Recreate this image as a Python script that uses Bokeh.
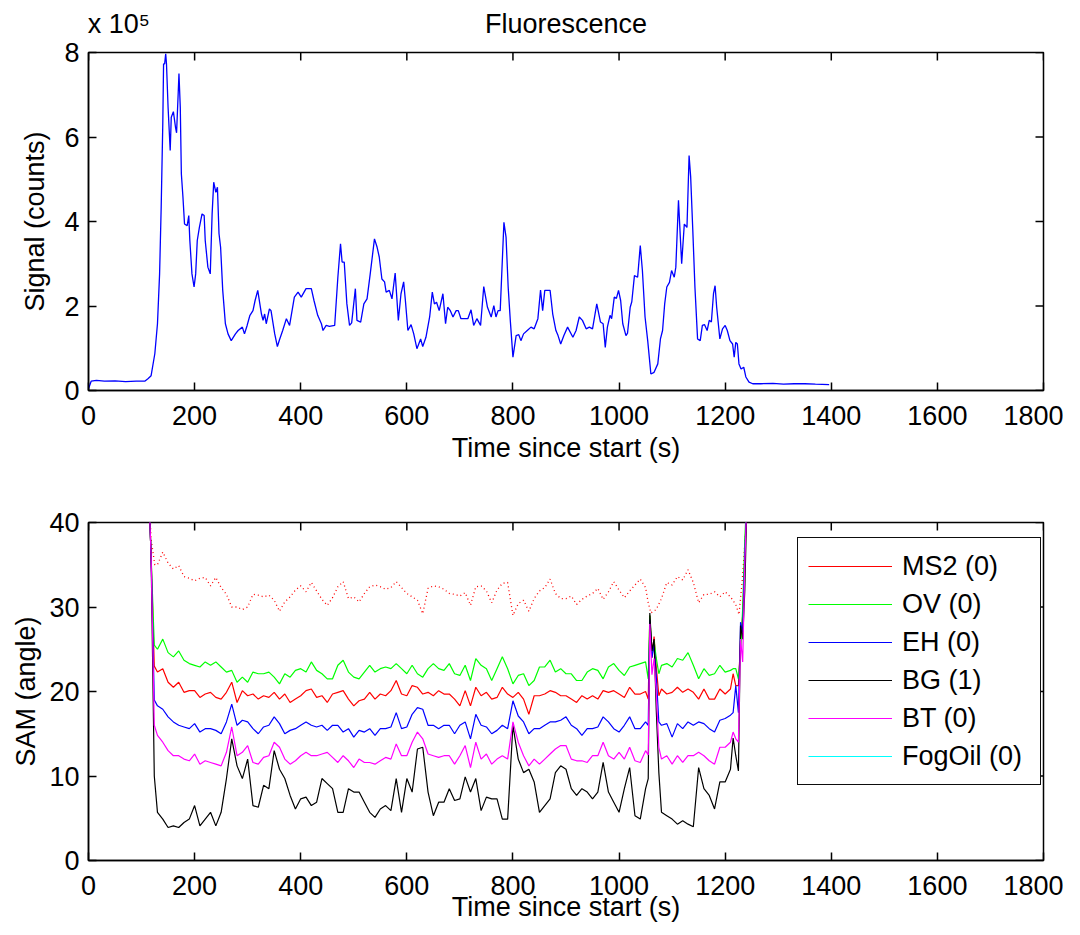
import math
from bokeh.plotting import figure
from bokeh.models import Range1d, LinearAxis, FixedTicker, Legend, LegendItem
from bokeh.layouts import column
from bokeh.embed import file_html
from bokeh.resources import INLINE

# ---------------- data ----------------
x_ticks = [0, 200, 400, 600, 800, 1000, 1200, 1400, 1600, 1800]
signal_y_ticks = [0, 2, 4, 6, 8]
sam_y_ticks = [0, 10, 20, 30, 40]

# Fluorescence signal (units of 1e5 counts)
fluor_t = [0, 5, 15, 30, 50, 70, 90, 106, 112, 118, 125, 130, 134, 137, 140, 141.5, 143.5, 145.5, 147, 150,
           154, 156, 160, 164, 166, 169, 170.5, 173, 175, 178, 181, 186, 189, 191, 195, 199, 202, 205, 209, 214,
           218, 220, 225, 229.5, 233, 236, 240, 243, 246, 249, 253, 258, 263, 269, 277, 282, 290, 294, 299, 304,
           310, 314, 319, 326, 329, 332, 335, 341, 344, 351, 356, 360, 366, 373, 379, 388, 395, 401, 410, 420,
           425, 432, 439, 442, 448, 454, 464, 470, 475, 478, 482, 487, 492, 496, 503, 506, 513, 519, 525, 531,
           539, 544, 548, 553, 558, 561, 567, 572, 578, 584, 589, 594, 597, 602, 608, 613, 619, 626, 630, 636,
           643, 648, 652, 656, 661, 668, 673, 677, 682, 687, 693, 697, 702, 709, 715, 721, 726, 732, 739, 745,
           752, 759, 764, 768, 772, 776, 783, 787, 791, 795, 800, 806, 811, 815, 820, 827, 834, 840, 847, 852,
           856, 860, 870, 875, 881, 885, 890, 896, 903, 913, 919, 925, 931, 938, 944, 950, 958, 965, 970, 974,
           978, 983, 986, 991, 995, 999, 1003, 1007, 1013, 1016, 1021, 1024, 1029, 1035, 1040, 1044, 1049, 1054, 1060, 1066,
           1073, 1078, 1082, 1086, 1090, 1095, 1099, 1104, 1107, 1112, 1118, 1123, 1128, 1132, 1135, 1139, 1143, 1148, 1153, 1157,
           1161, 1166, 1170, 1174, 1178, 1181, 1184, 1190, 1195, 1200, 1204, 1209, 1214, 1217, 1220, 1223, 1226, 1230, 1235, 1239,
           1245, 1252, 1267, 1290, 1310, 1330, 1350, 1370, 1396]
fluor_signal = [0.04, 0.22, 0.24, 0.22, 0.23, 0.21, 0.22, 0.22, 0.28, 0.35, 0.87, 1.58, 2.76, 4.34, 6.3, 7.73, 7.73, 7.97, 7.73, 6.7,
                5.68, 6.47, 6.6, 6.23, 6.1, 7.02, 7.5, 6.7, 5.13, 4.58, 3.94, 3.9, 4.14, 3.55, 2.76, 2.45, 2.76, 3.55, 3.86, 4.18,
                4.14, 3.55, 2.92, 2.76, 4.18, 4.93, 4.69, 4.81, 3.71, 3.39, 2.37, 1.58, 1.34, 1.18, 1.34, 1.42, 1.5, 1.34, 1.54, 1.77,
                1.89, 2.13, 2.37, 1.81, 1.66, 1.81, 1.58, 1.93, 1.89, 1.34, 1.04, 1.2, 1.42, 1.7, 1.54, 2.21, 2.33, 2.21, 2.41, 2.41,
                2.13, 1.78, 1.58, 1.42, 1.54, 1.52, 1.54, 2.68, 3.47, 3.04, 3.04, 2.05, 1.54, 1.6, 2.41, 1.66, 1.62, 2.05, 2.17, 2.76,
                3.59, 3.39, 3.16, 2.64, 2.57, 2.33, 2.37, 2.17, 2.78, 1.66, 2.29, 2.57, 2.17, 1.42, 1.56, 1.34, 0.99, 1.22, 1.04, 1.26,
                1.74, 2.33, 2.05, 2.09, 1.89, 2.29, 1.58, 1.97, 1.89, 1.74, 1.89, 1.89, 1.7, 1.7, 1.7, 1.91, 1.54, 1.7, 1.54, 2.46,
                1.97, 1.74, 2.01, 1.74, 1.89, 1.89, 3.98, 3.63, 2.45, 1.66, 0.79, 1.3, 1.32, 1.18, 1.34, 1.42, 1.5, 1.46, 1.7, 2.38,
                1.89, 2.37, 2.37, 1.81, 1.42, 1.3, 1.1, 1.3, 1.5, 1.26, 1.42, 1.74, 1.66, 1.46, 1.5, 1.46, 2.05, 1.62, 1.58, 1.02,
                1.5, 1.78, 1.7, 2.21, 2.18, 2.37, 2.13, 1.58, 1.3, 1.36, 1.97, 2.1, 2.72, 2.68, 3.43, 2.84, 1.74, 1.18, 0.39, 0.43,
                0.63, 1.22, 1.42, 2.05, 2.45, 2.56, 2.84, 2.68, 2.92, 4.5, 3.0, 3.94, 3.86, 5.56, 5.05, 3.79, 2.45, 1.22, 1.18, 1.54,
                1.56, 1.42, 1.66, 1.62, 2.29, 2.48, 1.97, 1.22, 1.46, 1.54, 1.42, 1.18, 1.1, 0.79, 1.14, 1.1, 0.63, 0.51, 0.55, 0.32,
                0.2, 0.16, 0.16, 0.17, 0.15, 0.16, 0.16, 0.15, 0.14]

# SAM angles
sam_t = [113, 118, 124,
         130, 140, 150, 160, 170, 180, 190, 200, 210, 220,
         230, 240, 250, 260, 270, 280, 290, 300, 310, 320,
         330, 340, 350, 360, 370, 380, 390, 400, 410, 420,
         430, 440, 450, 460, 470, 480, 490, 500, 510, 520,
         530, 540, 550, 560, 570, 580, 590, 600, 610, 620,
         630, 640, 650, 660, 670, 680, 690, 700, 710, 720,
         730, 740, 750, 760, 770, 780, 790, 800, 810, 820,
         830, 840, 850, 860, 870, 880, 890, 900, 910, 920,
         930, 940, 950, 960, 970, 980, 990, 1000, 1010, 1020,
         1030, 1040, 1050,
         1055, 1058, 1062, 1066, 1070, 1075,
         1080, 1090, 1100, 1110, 1120, 1130, 1140, 1150, 1160, 1170, 1180, 1190, 1200, 1210,
         1215, 1220, 1225, 1229, 1233, 1237, 1242]

sam_ov = [45, 36, 25.5,
          25.0, 26.2, 24.6, 24.1, 24.8, 23.7, 23.3, 23.1, 22.9, 23.5,
          23.1, 23.5, 22.9, 22.3, 22.5, 21.1, 21.7, 21.1, 22.3, 22.1,
          22.1, 22.3, 21.7, 20.9, 22.1, 21.7, 22.5, 22.7, 22.3, 23.5,
          22.5, 22.1, 21.5, 21.5, 23.1, 23.7, 22.3, 21.7, 21.5, 22.3,
          23.1, 22.3, 22.7, 22.9, 22.7, 23.3, 22.7, 22.1, 23.1, 22.1,
          21.7, 22.7, 23.3, 22.7, 22.5, 23.3, 22.1, 21.9, 23.1, 21.3,
          23.9, 23.1, 22.7, 21.3, 22.7, 24.1, 22.7, 20.9, 21.9, 22.1,
          20.7, 21.3, 22.9, 22.9, 23.7, 22.3, 22.7, 22.1, 22.1, 21.3,
          21.3, 22.3, 22.7, 22.5, 21.5, 22.9, 23.3, 22.5, 21.9, 22.9,
          23.1, 23.3, 23.5,
          21.5, 29.0, 24.5, 26.0, 24.0, 22.1,
          23.1, 23.3, 22.9, 23.9, 23.7, 24.6, 23.1, 21.5, 22.7, 21.9, 22.1, 23.1, 22.3, 22.5,
          22.7, 22.7, 21.5, 24.6, 29.8, 38, 45]

sam_ms2 = [45, 36, 23.0,
           22.3, 22.7, 21.1, 20.5, 21.1, 19.9, 20.1, 20.1, 19.3, 19.7,
           19.9, 19.3, 19.1, 19.9, 21.1, 18.7, 20.1, 19.5, 19.7, 19.1,
           19.5, 19.3, 19.9, 19.1, 19.7, 18.7, 19.1, 19.5, 20.1, 20.3,
           19.3, 19.5, 18.7, 19.7, 19.9, 20.1, 19.1, 18.3, 18.9, 19.1,
           19.9, 19.1, 19.7, 19.5, 20.1, 21.3, 19.7, 19.5, 20.7, 20.5,
           19.7, 19.9, 19.5, 20.1, 19.7, 19.7, 19.1, 18.3, 20.1, 18.3,
           20.5, 19.5, 19.9, 19.1, 19.3, 20.5, 19.7, 19.3, 19.9, 19.1,
           17.3, 19.5, 19.5, 19.7, 20.1, 19.9, 19.5, 19.5, 19.1, 18.7,
           19.5, 19.1, 19.5, 19.1, 20.1, 19.9, 20.1, 19.7, 19.3, 20.5,
           19.7, 19.7, 20.0,
           19.1, 29.0, 24.0, 26.5, 23.0, 19.5,
           20.3, 19.7, 19.9, 20.5, 19.9, 20.3, 19.9, 19.1, 20.3, 19.1, 19.1, 20.3, 19.7, 20.3,
           22.1, 20.7, 20.7, 26.0, 29.0, 36, 45]

sam_eh = [45, 36, 19.0,
          18.3, 17.9, 17.0, 16.4, 16.0, 15.8, 15.6, 16.2, 15.2, 15.6,
          15.6, 15.4, 15.0, 16.4, 18.5, 16.0, 16.6, 16.4, 15.6, 15.0,
          15.8, 16.0, 17.0, 16.2, 15.0, 15.4, 15.6, 16.0, 16.4, 16.0,
          15.8, 16.0, 15.4, 16.0, 16.0, 15.2, 15.6, 14.6, 15.4, 15.2,
          15.6, 14.8, 15.6, 15.6, 15.8, 17.5, 15.6, 15.8, 17.3, 18.1,
          17.9, 16.0, 16.0, 15.6, 16.0, 16.0, 15.0, 16.0, 16.4, 14.4,
          17.3, 16.0, 15.8, 15.0, 15.4, 16.0, 15.6, 18.9, 17.1, 16.4,
          15.0, 15.6, 15.6, 16.0, 16.4, 16.4, 16.6, 17.0, 16.0, 15.6,
          14.8, 15.6, 15.6, 15.8, 17.0, 16.4, 15.6, 15.2, 16.0, 17.0,
          15.6, 15.6, 16.4,
          16.0, 28.5, 24.0, 25.5, 22.0, 16.4,
          16.0, 16.2, 14.6, 16.2, 15.6, 16.4, 16.0, 16.4, 16.2, 15.6, 15.2, 16.6, 16.8, 17.2,
          17.5, 20.7, 17.5, 28.2, 27.0, 36, 45]

sam_bt = [45, 36, 16.0,
          14.8, 14.0, 13.0, 12.4, 12.4, 12.0, 11.8, 12.6, 11.4, 11.8,
          11.6, 11.4, 11.2, 12.8, 15.8, 12.4, 12.8, 13.6, 11.6, 11.4,
          12.2, 12.4, 14.0, 13.4, 12.0, 11.4, 11.8, 12.4, 12.8, 12.4,
          12.4, 12.6, 12.8, 12.2, 11.6, 12.4, 11.8, 11.0, 12.0, 11.6,
          11.6, 11.4, 11.8, 12.2, 12.0, 13.8, 12.4, 12.4, 14.0, 15.2,
          14.4, 12.6, 12.4, 12.2, 12.4, 12.4, 11.4, 12.4, 13.6, 11.0,
          14.0, 12.0, 12.6, 11.4, 12.0, 12.4, 12.0, 16.4, 14.0, 12.4,
          11.2, 12.0, 11.4, 12.0, 12.6, 13.2, 13.6, 13.6, 12.0, 11.8,
          11.8, 11.6, 12.4, 12.4, 14.0, 12.4, 12.0, 12.8, 12.0, 13.4,
          11.8, 11.6, 13.0,
          12.5, 28.0, 22.0, 23.9, 20.0, 13.4,
          12.0, 12.4, 11.4, 12.4, 11.6, 12.4, 12.4, 12.8, 12.4, 11.8, 11.4, 13.4, 13.4, 14.0,
          15.2, 14.4, 14.0, 26.2, 23.5, 35, 45]

sam_bg = [45, 36, 10.0,
          5.7, 4.9, 3.9, 4.1, 3.9, 4.5, 4.9, 6.5, 4.1, 4.9,
          5.7, 4.1, 5.7, 9.7, 14.4, 11.2, 9.7, 12.0, 6.5, 6.3,
          8.9, 8.5, 13.0, 10.8, 9.7, 7.7, 6.1, 7.3, 7.5, 6.5,
          6.9, 9.7, 9.1, 8.5, 5.7, 5.7, 8.5, 8.1, 8.1, 6.9,
          5.7, 5.1, 6.1, 6.5, 5.9, 9.7, 5.7, 9.7, 8.1, 13.2,
          13.4, 8.1, 5.3, 6.9, 6.9, 8.5, 7.1, 7.3, 9.9, 8.1,
          9.7, 5.9, 7.5, 7.3, 7.3, 4.9, 4.9, 16.0, 12.0, 10.4,
          10.8, 9.3, 5.7, 6.5, 7.3, 10.4, 11.2, 10.8, 8.5, 7.7,
          8.5, 8.1, 7.3, 8.1, 11.6, 8.1, 6.9, 5.7, 8.5, 11.0,
          5.3, 4.9, 8.5,
          9.7, 29.3, 24.8, 26.2, 18.0, 10.4,
          5.7, 5.3, 4.9, 4.3, 4.7, 4.3, 4.0, 11.0, 8.5, 7.7, 6.1, 9.3, 9.3, 10.8,
          14.5, 12.4, 10.6, 27.8, 26.2, 32, 45]

# FogOil never comes on scale: legend entry only
sam_fogoil_t = [math.nan]
sam_fogoil = [math.nan]

# dotted red reference trace
dot_t = [113, 118, 125,
         130, 140, 150, 160, 170, 180, 190, 200, 210, 220,
         230, 240, 250, 260, 270, 280, 290, 300, 310, 320,
         330, 340, 350, 360, 370, 380, 390, 400, 410, 420,
         430, 440, 450, 460, 470, 480, 490, 500, 510, 520,
         530, 540, 550, 560, 570, 580, 590, 600, 610, 620,
         630, 640, 650, 660, 670, 680, 690, 700, 710, 720,
         730, 740, 750, 760, 770, 780, 790, 800, 810, 820,
         830, 840, 850, 860, 870, 880, 890, 900, 910, 920,
         930, 940, 950, 960, 970, 980, 990, 1000, 1010, 1020,
         1030, 1040, 1050, 1055, 1060, 1070,
         1080, 1090, 1100, 1110, 1120, 1130, 1140, 1150, 1160, 1170, 1180, 1190, 1200, 1210, 1220,
         1226, 1232, 1240, 1244]
dot_v = [45, 38, 35,
         35.0, 36.5, 35.2, 34.5, 34.9, 33.6, 33.4, 33.1, 33.4, 33.5,
         32.5, 33.5, 32.3, 31.5, 30.0, 30.0, 29.7, 30.0, 31.5, 31.4,
         31.2, 31.4, 30.8, 29.5, 30.6, 31.2, 32.0, 32.5, 31.8, 32.9,
         31.9, 30.9, 30.2, 31.1, 32.4, 33.0, 31.0, 31.2, 30.6, 31.6,
         32.4, 32.6, 32.4, 32.1, 32.3, 33.0, 32.3, 31.6, 31.2, 30.8,
         29.2, 32.2, 32.5, 32.4, 32.1, 31.6, 31.5, 31.3, 31.7, 30.2,
         32.4, 32.5, 31.9, 30.5, 32.0, 32.8, 32.9, 29.0, 30.4, 30.8,
         29.5, 31.0, 31.9, 32.3, 33.3, 31.6, 31.0, 31.0, 31.3, 30.3,
         30.9, 31.3, 31.6, 32.2, 30.9, 31.8, 33.0, 32.0, 31.1, 31.9,
         32.6, 33.3, 32.3, 30.5, 29.3, 29.7,
         31.0, 32.9, 32.6, 33.6, 33.2, 34.4, 32.9, 30.5, 31.5, 31.5, 31.8, 31.2, 31.8, 31.2, 30.3,
         29.1, 33, 40, 45]

legend_labels = ["MS2 (0)", "OV (0)", "EH (0)", "BG (1)", "BT (0)", "FogOil (0)"]
title_text = "Fluorescence"
multiplier_text = "x 10\u2075"

# ---------------- styling ----------------
FONT = "Liberation Sans"
FS = "27px"
FRAME_W = 955
FRAME_H = 338
TICK = 8


def style(p, xr, yr, yticks, xlabel, ylabel, ylabel_standoff, xlabel_standoff):
    for ax in p.axis:
        ax.axis_line_color = "black"
        ax.axis_line_width = 1.5
        ax.major_tick_line_color = "black"
        ax.major_tick_line_width = 1.5
        ax.major_tick_in = TICK
        ax.major_tick_out = 0
        ax.minor_tick_in = 0
        ax.minor_tick_out = 0
        ax.major_label_text_font = FONT
        ax.major_label_text_font_size = FS
        ax.major_label_text_color = "black"
        ax.axis_label_text_font = FONT
        ax.axis_label_text_font_size = FS
        ax.axis_label_text_font_style = "normal"
        ax.axis_label_text_color = "black"
    p.xaxis.ticker = FixedTicker(ticks=x_ticks)
    p.yaxis.ticker = FixedTicker(ticks=yticks)
    p.xaxis.axis_label = xlabel
    p.xaxis.major_label_standoff = 15
    p.xaxis.axis_label_standoff = xlabel_standoff
    p.yaxis.axis_label = ylabel
    p.yaxis.major_label_standoff = 9
    p.yaxis.axis_label_standoff = ylabel_standoff
    p.xgrid.visible = False
    p.ygrid.visible = False
    p.outline_line_color = "black"
    p.outline_line_width = 1.5
    p.background_fill_color = "white"
    p.border_fill_color = "white"
    # inward ticks on the top and right edges of the box
    dy = TICK * (yr[1] - yr[0]) / FRAME_H
    dx = TICK * (xr[1] - xr[0]) / FRAME_W
    p.segment(x0=x_ticks, y0=[yr[1]] * len(x_ticks), x1=x_ticks, y1=[yr[1] - dy] * len(x_ticks),
              line_color="black", line_width=1.5)
    p.segment(x0=[xr[1]] * len(yticks), y0=yticks, x1=[xr[1] - dx] * len(yticks), y1=yticks,
              line_color="black", line_width=1.5)


# ---------------- top: fluorescence ----------------
XR = (0, 1800)
p1 = figure(frame_width=FRAME_W, frame_height=FRAME_H, x_range=Range1d(*XR), y_range=Range1d(0, 8),
            output_backend="svg", toolbar_location=None,
            min_border_left=88, min_border_top=52, min_border_right=20, min_border_bottom=90)
p1.line(fluor_t, fluor_signal, line_color="#0000ff", line_width=1.3)
style(p1, XR, (0, 8), signal_y_ticks, "Time since start (s)", "Signal (counts)", 11, 5)

# title and exponent written as labels of a bare top axis
MULT_X = 57
TITLE_X = 900
top_text = LinearAxis(ticker=FixedTicker(ticks=[MULT_X, TITLE_X]),
                      major_label_overrides={MULT_X: multiplier_text, TITLE_X: title_text},
                      axis_line_color=None, major_tick_line_color=None, minor_tick_line_color=None,
                      major_tick_in=0, major_tick_out=0, minor_tick_in=0, minor_tick_out=0,
                      major_label_standoff=14, major_label_text_font=FONT,
                      major_label_text_font_size=FS, major_label_text_color="black")
p1.add_layout(top_text, "above")

# ---------------- bottom: SAM ----------------
p2 = figure(frame_width=FRAME_W, frame_height=FRAME_H, x_range=Range1d(*XR), y_range=Range1d(0, 40),
            output_backend="svg", toolbar_location=None,
            min_border_left=88, min_border_top=42, min_border_right=20, min_border_bottom=0)
p2.line(dot_t, dot_v, line_color="#ff0000", line_width=1.3, line_dash="1 3")
r_ms2 = p2.line(sam_t, sam_ms2, line_color="#ff0000", line_width=1.2)
r_ov = p2.line(sam_t, sam_ov, line_color="#00ff00", line_width=1.2)
r_eh = p2.line(sam_t, sam_eh, line_color="#0000ff", line_width=1.2)
r_bg = p2.line(sam_t, sam_bg, line_color="#000000", line_width=1.2)
r_bt = p2.line(sam_t, sam_bt, line_color="#ff00ff", line_width=1.2)
r_fog = p2.line(sam_fogoil_t, sam_fogoil, line_color="#00ffff", line_width=1.2)
style(p2, XR, (0, 40), sam_y_ticks, "Time since start (s)", "SAM (angle)", 5, -6)

renderers = [r_ms2, r_ov, r_eh, r_bg, r_bt, r_fog]
legend = Legend(items=[LegendItem(label=l, renderers=[r]) for l, r in zip(legend_labels, renderers)],
                location=(709, 75), orientation="vertical",
                label_text_font=FONT, label_text_font_size=FS, label_text_color="black",
                glyph_width=84, glyph_height=36, label_height=36, label_width=128,
                label_standoff=10, padding=10, spacing=2, margin=0,
                border_line_color="#000000", border_line_width=1.8, border_line_alpha=0.95,
                background_fill_color="white", background_fill_alpha=1.0)
p2.add_layout(legend)

layout = column(p1, p2, spacing=0)
open("out.html", "w").write(file_html(layout, INLINE))
